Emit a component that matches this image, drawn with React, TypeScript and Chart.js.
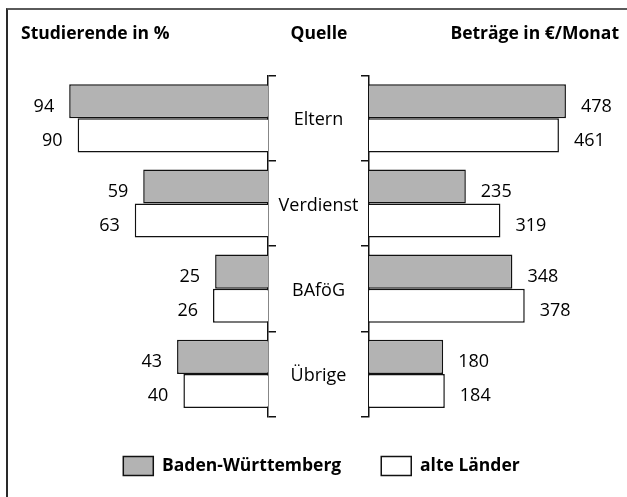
import React, { useEffect, useRef } from 'react';
import { Chart, registerables } from 'chart.js';
Chart.register(...registerables);

const categories = ['Eltern', 'Verdienst', 'BAföG', 'Übrige'];
const seriesNames = ['Baden-Württemberg', 'alte Länder'];
const sharePercentBW = [94, 59, 25, 43];
const sharePercentAL = [90, 63, 26, 40];
const amountEuroBW = [478, 235, 348, 180];
const amountEuroAL = [461, 319, 378, 184];
const headerLeft = 'Studierende in %';
const headerCenter = 'Quelle';
const headerRight = 'Beträge in €/Monat';
const shareMax = 100;
const amountMax = 500;

const W = 627;
const H = 497;
const FAMILY = '"Open Sans", sans-serif';
const GRAY = '#b3b3b3';
const EDGE = '#111111';
const LABEL_SIZE = 18;
const BOLD_SIZE = 17.5;

Chart.defaults.font.family = FAMILY;

function valueLabels(side: 'left' | 'right') {
  return {
    id: 'valueLabels',
    afterDatasetsDraw(chart: any) {
      const ctx = chart.ctx;
      ctx.save();
      ctx.font = `${LABEL_SIZE}px ${FAMILY}`;
      ctx.fillStyle = '#000';
      ctx.textBaseline = 'alphabetic';
      chart.data.datasets.forEach((ds: any, di: number) => {
        const meta = chart.getDatasetMeta(di);
        meta.data.forEach((bar: any, i: number) => {
          const v = ds.data[i];
          const { x, y } = bar.getProps(['x', 'y'], true);
          if (side === 'left') {
            ctx.textAlign = 'right';
            ctx.fillText(String(v), x - 15, y + 10.5);
          } else {
            ctx.textAlign = 'left';
            ctx.fillText(String(v), x + 15, y + 10.5);
          }
        });
      });
      ctx.restore();
    },
  };
}

const headersPlugin = {
  id: 'headers',
  afterDraw(chart: any) {
    const ctx = chart.ctx;
    ctx.save();
    ctx.font = `bold ${BOLD_SIZE}px ${FAMILY}`;
    ctx.fillStyle = '#000';
    ctx.textBaseline = 'alphabetic';
    ctx.textAlign = 'left';
    ctx.fillText(headerLeft, 21, 39);
    ctx.textAlign = 'center';
    ctx.fillText(headerCenter, 319, 39);
    ctx.textAlign = 'right';
    ctx.fillText(headerRight, 619, 39);
    ctx.restore();
  },
};

function categoryAxis(position: 'left' | 'right', showLabels: boolean, pad: number, width?: number) {
  return {
    position,
    grid: {
      display: true,
      drawOnChartArea: false,
      drawTicks: true,
      tickLength: 8,
      offset: true,
      color: EDGE,
      lineWidth: 1.5,
    },
    border: { display: true, color: EDGE, width: 1.5 },
    ticks: {
      display: showLabels,
      crossAlign: 'center',
      padding: pad,
      labelOffset: 2,
      color: '#000',
      font: { family: FAMILY, size: LABEL_SIZE },
    },
    afterFit: width ? (s: any) => { s.width = width; } : undefined,
  };
}

function spacer(position: 'left' | 'right', width: number) {
  return {
    type: 'linear',
    position,
    weight: 10,
    grid: { display: false },
    border: { display: false },
    ticks: { display: false },
    afterFit: (s: any) => { s.width = width; },
  };
}

export default function App() {
  const leftRef = useRef<HTMLCanvasElement>(null);
  const rightRef = useRef<HTMLCanvasElement>(null);

  useEffect(() => {
    const measure = document.createElement('canvas').getContext('2d')!;
    measure.font = `${LABEL_SIZE}px ${FAMILY}`;
    const widest = Math.max(...categories.map((c) => measure.measureText(c).width));
    const labelPad = 50.5 - 8 - widest / 2;

    const barDs = (label: string, data: number[], fill: string) => ({
      label,
      data,
      backgroundColor: fill,
      borderColor: EDGE,
      borderWidth: 1.5,
      categoryPercentage: 0.8,
      barPercentage: 1,
    });

    const left = new Chart(leftRef.current!, {
      type: 'bar',
      data: {
        labels: categories,
        datasets: [
          barDs(seriesNames[0], sharePercentBW, GRAY),
          barDs(seriesNames[1], sharePercentAL, '#ffffff'),
        ],
      },
      options: {
        indexAxis: 'y',
        responsive: false,
        animation: false,
        layout: { padding: { top: 75.7, bottom: 80.5, left: 56.5, right: 258 } },
        plugins: { legend: { display: false }, tooltip: { enabled: false } },
        scales: {
          x: { display: false, reverse: true, min: 0, max: shareMax },
          y: categoryAxis('right', true, labelPad, 101) as any,
        },
      },
      plugins: [valueLabels('left')],
    } as any);

    const right = new Chart(rightRef.current!, {
      type: 'bar',
      data: {
        labels: categories,
        datasets: [
          barDs(seriesNames[0], amountEuroBW, GRAY),
          barDs(seriesNames[1], amountEuroAL, '#ffffff'),
        ],
      },
      options: {
        indexAxis: 'y',
        responsive: false,
        animation: false,
        layout: { padding: { top: 75.7, bottom: 11.5, left: 16, right: 0 } },
        plugins: {
          tooltip: { enabled: false },
          legend: {
            display: true,
            position: 'bottom',
            labels: {
              boxWidth: 30,
              boxHeight: 19,
              padding: 40,
              color: '#000',
              font: { family: FAMILY, size: BOLD_SIZE, weight: 'bold' },
            },
          },
        },
        scales: {
          x: { display: false, min: 0, max: amountMax },
          y: categoryAxis('left', false, 0) as any,
          padL: spacer('left', 345) as any,
          padR: spacer('right', 52) as any,
        },
      },
      plugins: [valueLabels('right'), headersPlugin],
    } as any);

    return () => {
      left.destroy();
      right.destroy();
    };
  }, []);

  return (
    <div style={{ position: 'absolute', left: 0, top: 0, width: W, height: H, overflow: 'hidden', background: '#fff' }}>
      <div
        style={{
          position: 'absolute',
          left: 6,
          top: 8,
          width: W + 50,
          height: H + 50,
          borderLeft: '2px solid #2a2a2a',
          borderTop: '2px solid #5a5a5a',
        }}
      />
      <canvas ref={leftRef} width={W} height={H} style={{ position: 'absolute', left: 0, top: 0 }} />
      <canvas ref={rightRef} width={W} height={H} style={{ position: 'absolute', left: 0, top: 0 }} />
    </div>
  );
}
